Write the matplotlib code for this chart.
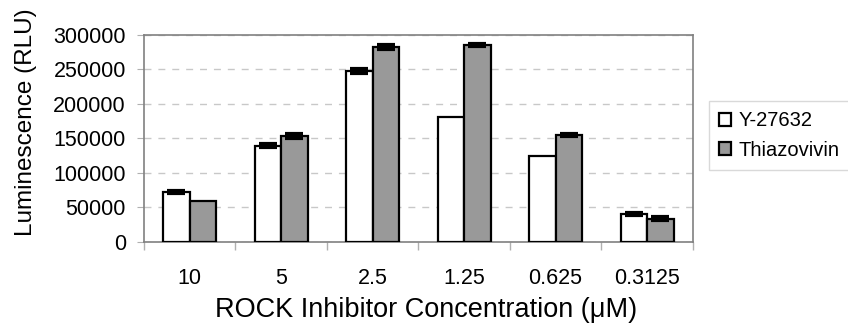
"""
luminescence vs ROCK inhibitor concentration, grouped bars
"""
import matplotlib
matplotlib.use("Agg")
import matplotlib.pyplot as plt
import numpy as np

plt.rcParams['font.family'] = ['Liberation Sans', 'DejaVu Sans']

# data
concLabels = ['10', '5', '2.5', '1.25', '0.625', '0.3125']
y27632 = [72500, 139500, 248000, 181500, 124000, 41000]
y27632Err = [1500, 2500, 2500, 0, 0, 1500]
thiazovivin = [59500, 153000, 282500, 285000, 155000, 34000]
thiazovivinErr = [0, 3000, 3000, 1500, 1500, 1500]
seriesNames = ['Y-27632', 'Thiazovivin']

fig = plt.figure(figsize=(8.48, 3.33), dpi=100)
ax = fig.add_axes([0.1698, 0.2733, 0.6472, 0.6217])

x = np.arange(len(concLabels))
w = 0.29

# bars, white then grey
ax.bar(x - w/2, y27632, w, color='white', edgecolor='black', linewidth=1.6,
       label=seriesNames[0], zorder=3)
ax.bar(x + w/2, thiazovivin, w, color='#999999', edgecolor='black', linewidth=1.6,
       label=seriesNames[1], zorder=3)

# error bars - thick caps, skip the ones with no error
for xs, vals, errs in [(x - w/2, y27632, y27632Err), (x + w/2, thiazovivin, thiazovivinErr)]:
    errs = np.array(errs)
    m = errs > 0
    ax.errorbar(xs[m], np.array(vals)[m], yerr=errs[m], fmt='none', ecolor='black',
                elinewidth=1.5, capsize=6.5, capthick=3, zorder=4)

ax.set_xlim(-0.5, len(concLabels) - 0.5)
ax.set_ylim(0, 300000)
ax.set_yticks(np.arange(0, 300001, 50000))

# dashed gridlines like excel
ax.yaxis.grid(True, color='#c8c8c8', linestyle=(0, (5, 5)), linewidth=1.0, zorder=0)

# labels at centres, tick marks at boundaries
ax.set_xticks(x)
ax.set_xticklabels(concLabels, fontsize=15.5)
ax.set_xticks(np.arange(-0.5, len(concLabels)), minor=True)
ax.tick_params(axis='x', which='major', length=0, pad=19)
ax.tick_params(axis='x', which='minor', length=6, color='#b0b0b0', width=1)
ax.tick_params(axis='y', length=5, color='#b0b0b0', labelsize=15.5, pad=8)

for sp in ax.spines.values():
    sp.set_color('#808080')
    sp.set_linewidth(1.2)

ax.set_ylabel('Luminescence (RLU)', fontsize=17.5)
ax.yaxis.set_label_coords(-0.195, 0.58)
ax.set_xlabel('ROCK Inhibitor Concentration (\u03bcM)', fontsize=19.5)
ax.xaxis.set_label_coords(0.514, -0.265)

leg = fig.legend(loc='center left', bbox_to_anchor=(0.836, 0.593), fontsize=14.5,
                 frameon=True, fancybox=False, edgecolor='#d0d0d0',
                 handlelength=0.6, handleheight=0.6, handletextpad=0.35,
                 borderpad=0.5, labelspacing=0.5, borderaxespad=0)
leg.get_frame().set_linewidth(1.0)

plt.savefig('out.png', dpi=100)
